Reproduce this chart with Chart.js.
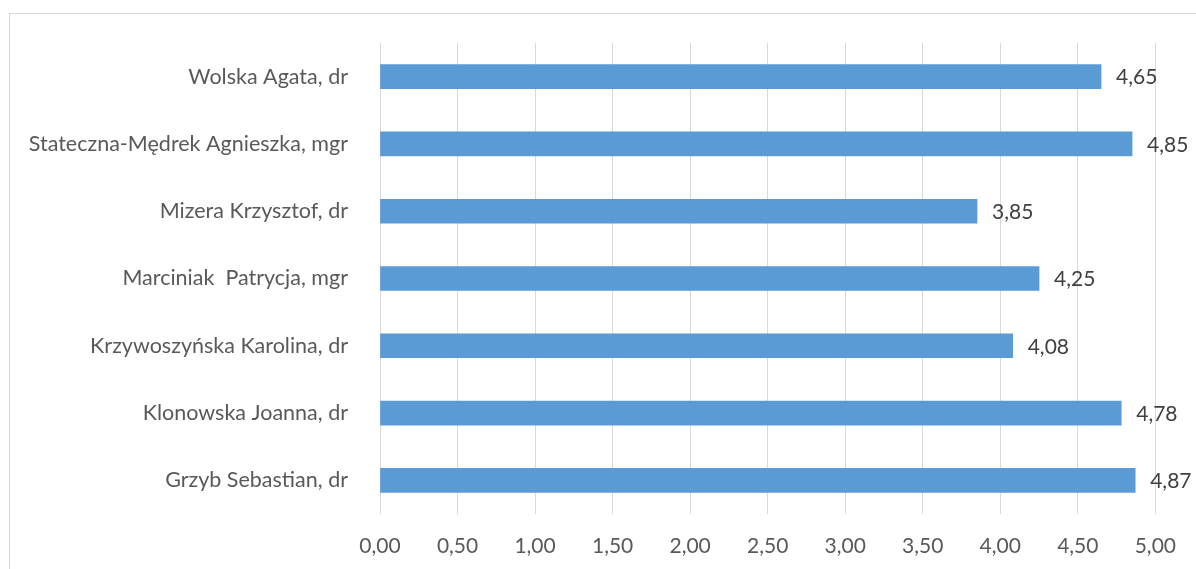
<!DOCTYPE html>
<html lang="pl">
<head>
    <meta charset="UTF-8">
    <title>Oceny prowadzących</title>
    <script src="https://cdn.jsdelivr.net/npm/chart.js"></script>
    <style>
        body { margin: 0; padding: 0; background: #fff; overflow: hidden; }
        .frame { position: absolute; left: 9px; top: 13px; width: 1300px; height: 700px; border: 1px solid #d9d9d9; }
        .wrap { position: absolute; left: 0; top: 0; width: 1196px; height: 569px; }
    </style>
</head>
<body>
    <div class="frame"></div>
    <div class="wrap"><canvas id="chart"></canvas></div>

    <script>
        // data, top to bottom as in the picture
        const names = [
            'Wolska Agata, dr',
            'Stateczna-Mędrek Agnieszka, mgr',
            'Mizera Krzysztof, dr',
            'Marciniak  Patrycja, mgr',
            'Krzywoszyńska Karolina, dr',
            'Klonowska Joanna, dr',
            'Grzyb Sebastian, dr'
        ];
        const scores = [4.65, 4.85, 3.85, 4.25, 4.08, 4.78, 4.87];
        const xTicks = [0, 0.5, 1, 1.5, 2, 2.5, 3, 3.5, 4, 4.5, 5];

        const fmt = v => v.toFixed(2).replace('.', ',');
        const fontFamily = 'Lato, "Open Sans", sans-serif';

        // value labels at the end of each bar
        const valueLabels = {
            id: 'valueLabels',
            afterDatasetsDraw(chart) {
                const ctx = chart.ctx;
                const meta = chart.getDatasetMeta(0);
                ctx.save();
                ctx.font = '21px ' + fontFamily;
                ctx.fillStyle = '#404040';
                ctx.textAlign = 'left';
                ctx.textBaseline = 'middle';
                meta.data.forEach((bar, i) => {
                    ctx.fillText(fmt(scores[i]), bar.x + 15, bar.y + 1);
                });
                ctx.restore();
            }
        };

        new Chart(document.getElementById('chart'), {
            type: 'bar',
            data: {
                labels: names,
                datasets: [{
                    data: scores,
                    backgroundColor: '#5b9bd5',
                    borderWidth: 0,
                    barThickness: 24
                }]
            },
            options: {
                indexAxis: 'y',
                responsive: true,
                maintainAspectRatio: false,
                animation: false,
                layout: { padding: { top: 43, right: 39, bottom: 0, left: 0 } },
                plugins: {
                    legend: { display: false },
                    tooltip: { enabled: false }
                },
                scales: {
                    x: {
                        min: 0,
                        max: 5,
                        afterBuildTicks: scale => { scale.ticks = xTicks.map(v => ({ value: v })); },
                        afterFit: scale => { scale.height = 55; },
                        grid: { color: '#d9d9d9', lineWidth: 1, drawTicks: false },
                        border: { display: false },
                        ticks: {
                            padding: 20,
                            color: '#595959',
                            font: { size: 21, family: fontFamily },
                            callback: v => fmt(v)
                        }
                    },
                    y: {
                        afterFit: scale => { scale.width = 380; },
                        grid: { display: false },
                        border: { display: false },
                        ticks: {
                            padding: 24,
                            color: '#595959',
                            font: { size: 21.5, family: fontFamily }
                        }
                    }
                }
            },
            plugins: [valueLabels]
        });
    </script>
</body>
</html>
